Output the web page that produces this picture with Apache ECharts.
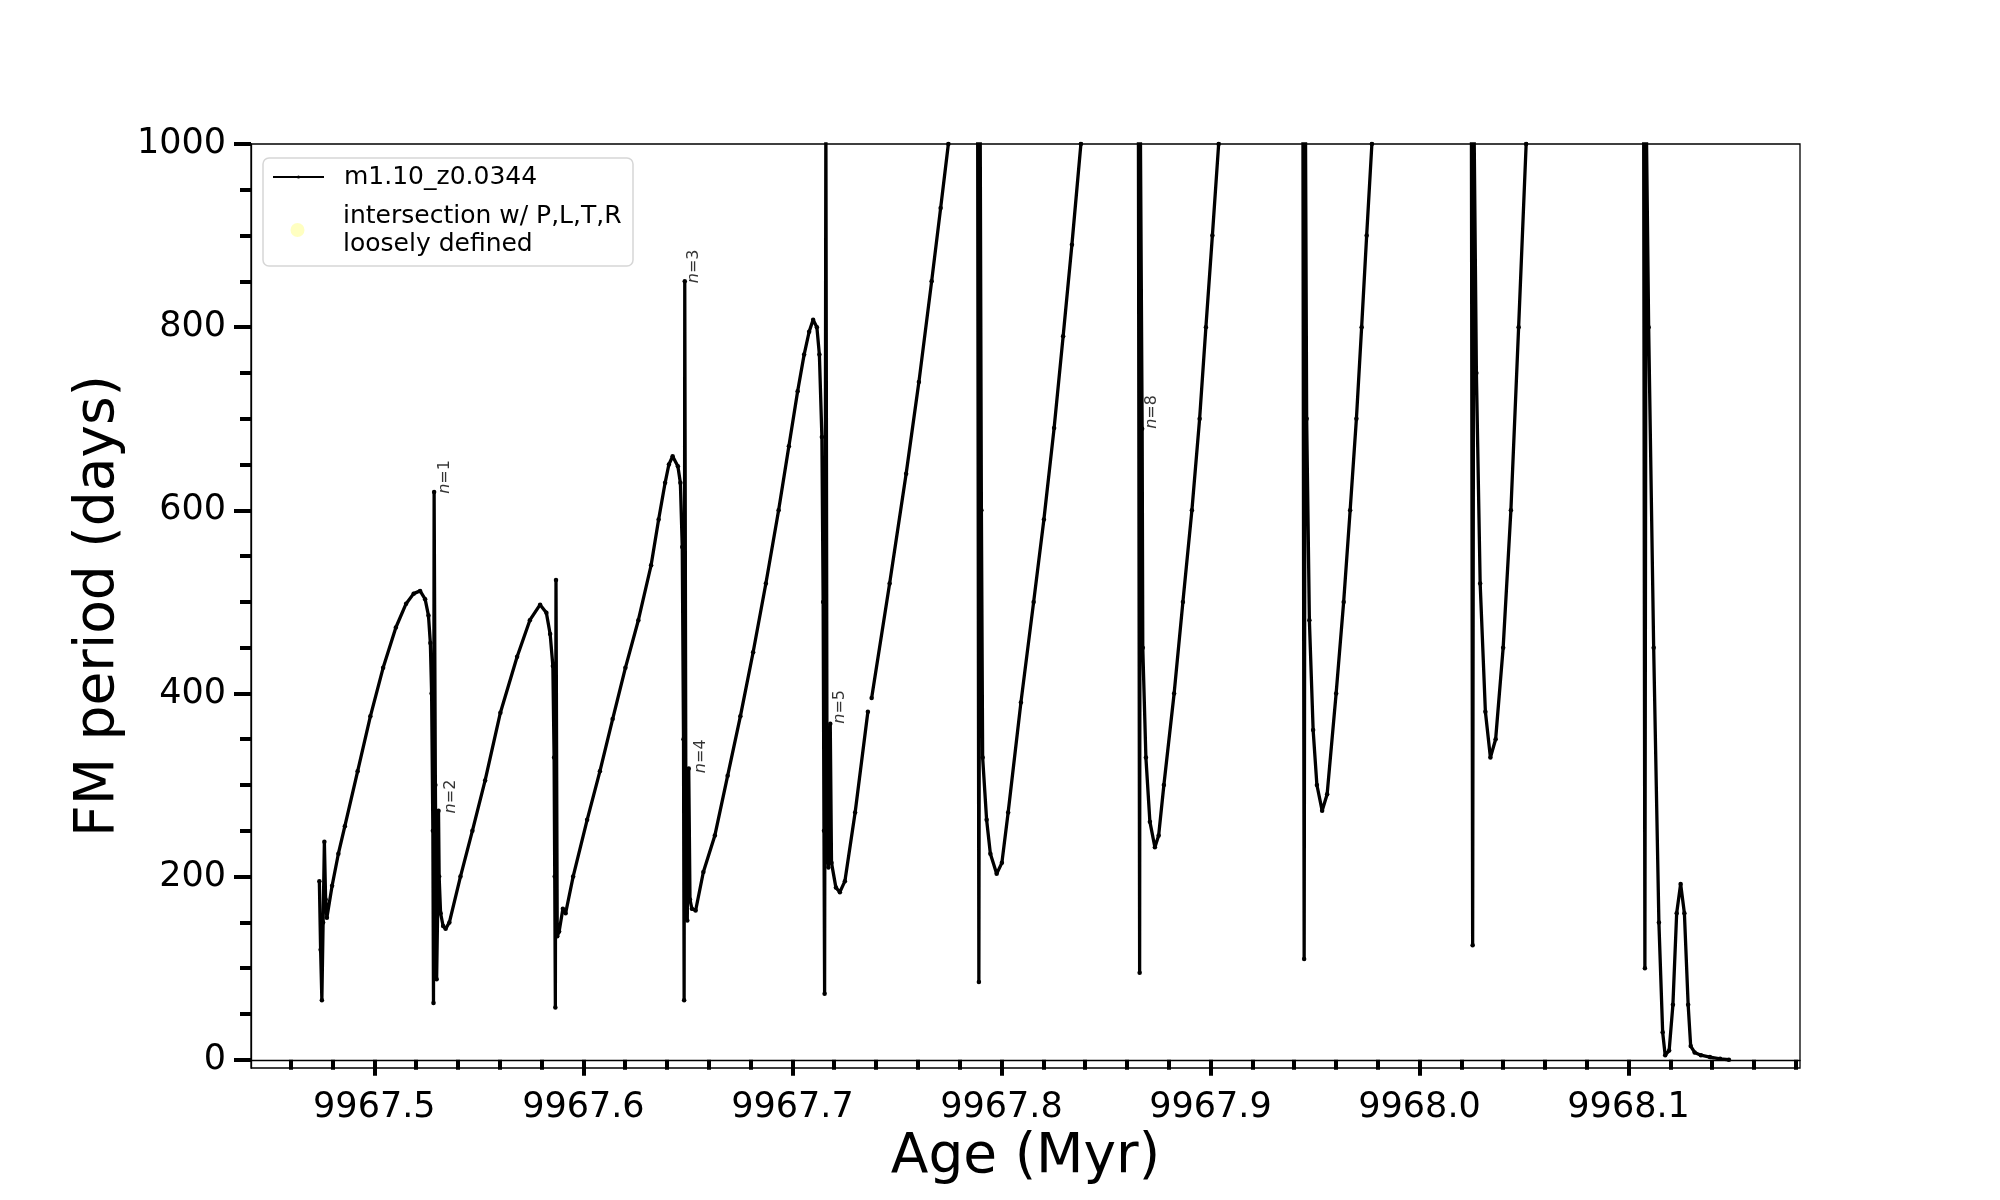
<!DOCTYPE html>
<html>
<head>
<meta charset="utf-8">
<script src="https://cdn.jsdelivr.net/npm/echarts@6/dist/echarts.min.js"></script>
<style>
html,body{margin:0;padding:0;background:#fff;}
#chart{width:2000px;height:1200px;}
</style>
</head>
<body>
<div id="chart"></div>
<script>
// ---- data ----
const seriesName = 'm1.10_z0.0344';
const flagName = 'intersection w/ P,L,T,R\nloosely defined';

const ageMyr = [
  // first two loops and the n=1 / n=2 spikes
  9967.4737,9967.4743,9967.4749,9967.4755,9967.4761,9967.4767,9967.4773,9967.4798,9967.4828,9967.4859,
  9967.4920,9967.4981,9967.5042,9967.5103,9967.5152,9967.5188,9967.5219,9967.5243,9967.5259,9967.5268,
  9967.5274,9967.5280,9967.5283,9967.5286,9967.5292,9967.5298,9967.5304,9967.5307,9967.5310,9967.5317,
  9967.5329,9967.5341,9967.5359,9967.5412,9967.5469,9967.5530,9967.5603,9967.5683,9967.5744,9967.5793,
  9967.5823,9967.5841,9967.5854,9967.5860,9967.5863,9967.5866,9967.5869,9967.5875,9967.5884,9967.5902,
  9967.5915,
  // third loop, n=3 / n=4 spikes
  9967.5951,9967.6018,9967.6079,9967.6140,9967.6201,9967.6263,9967.6324,9967.6360,9967.6391,9967.6409,
  9967.6427,9967.6452,9967.6464,9967.6473,9967.6479,9967.6482,9967.6485,9967.6491,9967.6497,9967.6504,
  9967.6510,9967.6519,9967.6537,
  // fourth loop, n=5 and the long rise
  9967.6574,9967.6629,9967.6690,9967.6751,9967.6812,9967.6873,9967.6934,9967.6983,9967.7025,9967.7056,
  9967.7080,9967.7099,9967.7117,9967.7129,9967.7141,9967.7147,9967.7151,9967.7154,9967.7160,9967.7166,
  9967.7172,9967.7181,9967.7187,9967.7208,9967.7227,9967.7251,9967.7300,9967.7361,9967.7370,9967.7379,
  9967.7465,9967.7544,9967.7605,9967.7666,9967.7709,9967.7746,9967.7764,
  // dips
  9967.7886,9967.7892,9967.7898,9967.7904,9967.7910,9967.7929,9967.7947,9967.7977,9967.8002,9967.8032,
  9967.8093,9967.8154,9967.8203,9967.8252,9967.8295,9967.8337,9967.8380,9967.8399,
  9967.8655,9967.8661,9967.8664,9967.8673,9967.8676,9967.8691,9967.8710,9967.8734,9967.8752,9967.8777,
  9967.8826,9967.8868,9967.8911,9967.8948,9967.8978,9967.9009,9967.9039,9967.9052,
  9967.9442,9967.9448,9967.9454,9967.9460,9967.9473,9967.9491,9967.9509,9967.9534,9967.9558,9967.9601,
  9967.9637,9967.9668,9967.9698,9967.9723,9967.9747,9967.9772,9967.9784,
  9968.0248,9968.0254,9968.0260,9968.0272,9968.0290,9968.0315,9968.0339,9968.0364,9968.0400,9968.0437,
  9968.0474,9968.0510,9968.0522,
  9968.1072,9968.1078,9968.1084,9968.1096,9968.1120,9968.1145,9968.1163,9968.1175,9968.1194,9968.1212,
  9968.1230,9968.1249,9968.1267,9968.1285,9968.1297,9968.1316,9968.1346,9968.1389,9968.1438,9968.1480
];
const periodDays = [
  195,120,65,150,238,175,155,190,225,255,
  315,375,428,472,498,509,512,503,485,455,
  400,250,62,620,300,88,180,272,200,160,
  146,143,150,200,250,305,379,440,480,497,
  488,465,430,330,200,57,524,135,140,165,
  160,
  200,262,315,372,428,480,540,590,630,650,
  659,648,630,560,350,65,850,200,152,318,
  175,165,163,
  205,245,310,375,445,520,600,670,730,770,
  795,808,800,770,680,500,250,72,1040,230,
  210,367,215,188,183,195,270,380,null,395,
  520,640,740,850,930,1000,1040,
  1040,85,1040,600,330,262,225,203,215,270,
  390,500,590,690,790,890,1000,1040,
  1040,95,1040,689,450,330,260,232,245,300,
  400,500,600,700,800,900,1000,1040,
  1040,110,1040,700,480,360,300,272,290,400,
  500,600,700,800,900,1000,1040,
  1040,125,1040,750,520,380,330,350,450,600,
  800,1000,1040,
  1040,100,1040,800,450,150,30,5,10,60,
  160,192,160,60,15,8,5,3,1,0
];

// mode annotations
const modeText = ['n=1','n=2','n=3','n=4','n=5','n=8'];
const modeAge  = [9967.5301, 9967.5330, 9967.6488, 9967.6526, 9967.7190, 9967.8679];
const modeP    = [618, 269, 848, 313, 367, 689];

// ticks
const xMajor = [9967.5, 9967.6, 9967.7, 9967.8, 9967.9, 9968.0, 9968.1];
const xMinor = [9967.46,9967.48,9967.52,9967.54,9967.56,9967.58,9967.62,9967.64,9967.66,9967.68,
                9967.72,9967.74,9967.76,9967.78,9967.82,9967.84,9967.86,9967.88,9967.92,9967.94,
                9967.96,9967.98,9968.02,9968.04,9968.06,9968.08,9968.12,9968.14,9968.16,9968.18];
const yMajor = [0, 200, 400, 600, 800, 1000];
const yMinor = [50,100,150,250,300,350,450,500,550,650,700,750,850,900,950];

const xMin = 9967.441, xMax = 9968.182;
const yMin = -9, yMax = 1000;

// ---- chart ----
const FONT = 'DejaVu Sans';
const lineData = ageMyr.map((a, i) => [a, periodDays[i]]);
const modeData = modeAge.map((a, i) => ({ value: [a, modeP[i]], name: modeText[i] }));

// legend marker: a circle centred in a 66 x 15 box
const circleIcon = 'path://M0,0L0.01,0L0,0.01Z M66,15L65.99,15L66,14.99Z ' +
                   'M18.5,7.5A7,7,0,1,1,32.5,7.5A7,7,0,1,1,18.5,7.5Z';

const chart = echarts.init(document.getElementById('chart'), null, { renderer: 'canvas' });

const axisCommonX = { type: 'value', min: xMin, max: xMax, position: 'bottom', splitLine: { show: false } };
const axisCommonY = { type: 'value', min: yMin, max: yMax, position: 'left', splitLine: { show: false } };

chart.setOption({
  animation: false,
  backgroundColor: '#ffffff',
  textStyle: { fontFamily: FONT },
  grid: {
    left: 251, right: 200, top: 144, bottom: 132,
    show: true, borderColor: '#000', borderWidth: 1.3, backgroundColor: 'transparent'
  },
  graphic: [{
    type: 'rect', z: 3, silent: true,
    shape: { x: 263, y: 158, width: 370, height: 108, r: 6 },
    style: { fill: 'rgba(255,255,255,0.8)', stroke: '#d6d6d6', lineWidth: 1.5 }
  }],
  legend: [
    {
      data: [seriesName], orient: 'vertical', left: 272, top: 163, padding: 0,
      itemWidth: 51, itemHeight: 4, z: 5,
      textStyle: { fontFamily: FONT, fontSize: 25, color: '#000', lineHeight: 28, padding: [0, 0, 0, 15] }
    },
    {
      data: [{ name: flagName, icon: circleIcon }], orient: 'vertical', left: 272, top: 202, padding: 0,
      itemWidth: 66, itemHeight: 15, z: 5,
      textStyle: { fontFamily: FONT, fontSize: 25, color: '#000', lineHeight: 28 }
    }
  ],
  xAxis: [
    Object.assign({}, axisCommonX, {
      name: 'Age (Myr)', nameLocation: 'middle', nameGap: 59,
      nameTextStyle: { fontFamily: FONT, fontSize: 55, color: '#000' },
      axisLine: { show: true, lineStyle: { color: '#000', width: 1.3 } },
      axisTick: { show: true, inside: false, length: 16, lineStyle: { color: '#000', width: 4 }, customValues: xMajor },
      axisLabel: { show: true, margin: 22, fontFamily: FONT, fontSize: 35, color: '#000',
                   customValues: xMajor, formatter: v => Number(v).toFixed(1) }
    }),
    Object.assign({}, axisCommonX, {
      axisLine: { show: false },
      axisTick: { show: true, inside: false, length: 10, lineStyle: { color: '#000', width: 4 }, customValues: xMinor },
      axisLabel: { show: false }
    })
  ],
  yAxis: [
    Object.assign({}, axisCommonY, {
      name: 'FM period (days)', nameLocation: 'middle', nameGap: 106, nameRotate: 90,
      nameTextStyle: { fontFamily: FONT, fontSize: 55, color: '#000' },
      axisLine: { show: true, lineStyle: { color: '#000', width: 1.3 } },
      axisTick: { show: true, inside: false, length: 17, lineStyle: { color: '#000', width: 4 }, customValues: yMajor },
      axisLabel: { show: true, margin: 25, fontFamily: FONT, fontSize: 35, color: '#000',
                   customValues: yMajor, formatter: v => String(Math.round(v)) }
    }),
    Object.assign({}, axisCommonY, {
      axisLine: { show: false },
      axisTick: { show: true, inside: false, length: 11, lineStyle: { color: '#000', width: 4 }, customValues: yMinor },
      axisLabel: { show: false }
    })
  ],
  series: [
    {
      name: seriesName, type: 'line', xAxisIndex: 0, yAxisIndex: 0,
      data: lineData, clip: true, connectNulls: false,
      showSymbol: true, showAllSymbol: true, symbol: 'circle', symbolSize: 4.5,
      itemStyle: { color: '#000' },
      lineStyle: { color: '#000', width: 3.3 },
      emphasis: { disabled: true }, z: 2
    },
    {
      name: flagName, type: 'scatter', xAxisIndex: 0, yAxisIndex: 0,
      data: [], itemStyle: { color: 'rgba(255,255,0,0.3)' }
    },
    {
      name: 'modes', type: 'scatter', xAxisIndex: 0, yAxisIndex: 0,
      data: modeData, symbolSize: 0, silent: true, z: 4,
      label: {
        show: true, position: [0, 0], rotate: 90, align: 'left', verticalAlign: 'top',
        fontFamily: FONT, fontSize: 16, color: '#000',
        formatter: p => '{i|n}=' + p.name.slice(2),
        rich: { i: { fontStyle: 'italic', fontFamily: FONT, fontSize: 16, color: '#000' } }
      }
    }
  ]
});
</script>
</body>
</html>
